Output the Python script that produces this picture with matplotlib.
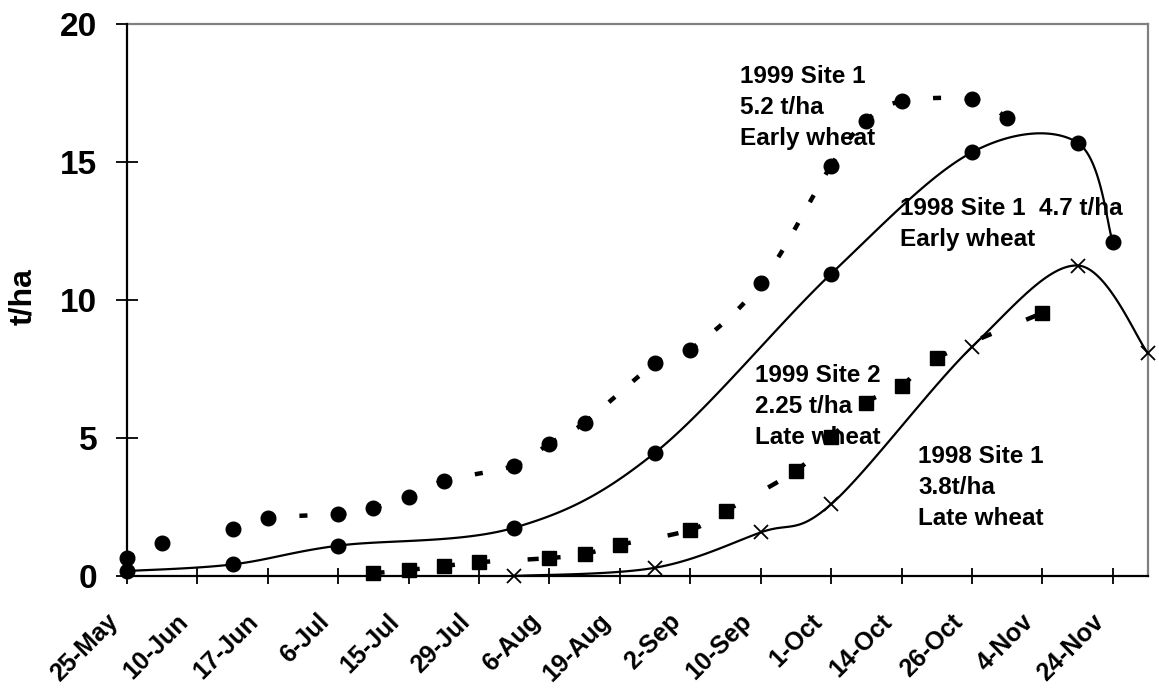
import numpy as np
import matplotlib
matplotlib.use("Agg")
import matplotlib.pyplot as plt
from matplotlib.transforms import ScaledTranslation

plt.rcParams['font.family'] = ['Liberation Sans', 'DejaVu Sans']
plt.rcParams['font.weight'] = 'bold'
plt.rcParams['lines.scale_dashes'] = False

# ---------------- data ----------------
date_labels = ['25-May', '10-Jun', '17-Jun', '6-Jul', '15-Jul', '29-Jul', '6-Aug',
               '19-Aug', '2-Sep', '10-Sep', '1-Oct', '14-Oct', '26-Oct', '4-Nov', '24-Nov']
n_categories = 30
y_ticks = [0, 5, 10, 15, 20]

# 1999 Site 1, early wheat (two connected pieces)
s99_1_a_x = [0, 1]
s99_1_a_y = [0.65, 1.2]
s99_1_b_x = [3, 4, 6, 7, 8, 9, 11, 12, 13, 15, 16, 18, 20, 21, 22, 24, 25]
s99_1_b_y = [1.7, 2.1, 2.25, 2.47, 2.85, 3.45, 4.0, 4.8, 5.56, 7.7, 8.2, 10.6,
             14.87, 16.5, 17.2, 17.27, 16.6]

# 1998 Site 1, early wheat
s98_early_x = [0, 3, 6, 11, 15, 20, 24, 27, 28]
s98_early_y = [0.18, 0.42, 1.1, 1.75, 4.47, 10.95, 15.35, 15.7, 12.1]

# 1999 Site 2, late wheat
s99_2_x = [7, 8, 9, 10, 12, 13, 14, 16, 17, 19, 20, 21, 22, 23, 26]
s99_2_y = [0.1, 0.22, 0.36, 0.5, 0.65, 0.8, 1.13, 1.67, 2.36, 3.82, 5.02, 6.28,
           6.9, 7.9, 9.53]

# 1998 Site 1, late wheat
s98_late_x = [11, 15, 18, 20, 24, 27, 29]
s98_late_y = [0.0, 0.3, 1.58, 2.6, 8.3, 11.25, 8.07]

annotations = [
    ("1999 Site 1\n5.2 t/ha\nEarly wheat", 740, 65),
    ("1998 Site 1  4.7 t/ha\nEarly wheat", 900, 197),
    ("1999 Site 2\n2.25 t/ha\nLate wheat", 755, 364),
    ("1998 Site 1\n3.8t/ha\nLate wheat", 918, 445),
]

# ---------------- helpers ----------------
def smooth_segments(xs, ys, n=40):
    """Excel-like smoothed line: Bezier segments with Catmull-Rom control points."""
    P = np.column_stack([xs, ys]).astype(float)
    segs = []
    t = np.linspace(0, 1, n)[:, None]
    for i in range(len(P) - 1):
        p0 = P[i - 1] if i > 0 else P[i]
        p1 = P[i]
        p2 = P[i + 1]
        p3 = P[i + 2] if i + 2 < len(P) else P[i + 1]
        c1 = p1 + (p2 - p0) / 6.0
        c2 = p2 - (p3 - p1) / 6.0
        B = ((1 - t) ** 3) * p1 + 3 * ((1 - t) ** 2) * t * c1 + 3 * (1 - t) * (t ** 2) * c2 + (t ** 3) * p2
        segs.append(B)
    return segs


def draw_line(ax, xs, ys, lw, ls):
    for seg in smooth_segments(xs, ys):
        ax.plot(seg[:, 0], seg[:, 1], color='black', lw=lw, linestyle=ls,
                dash_capstyle='butt', solid_capstyle='butt', zorder=3, clip_on=False)


W, H = 1159, 689
fig = plt.figure(figsize=(W / 100, H / 100), dpi=100)
L, R, T, Bm = 127, 1148, 24, 576
ax = fig.add_axes([L / W, 1 - Bm / H, (R - L) / W, (Bm - T) / H])

dashA = (0, (5.8, 17.0))
dashC = (0, (8.0, 27.0))

draw_line(ax, s99_1_a_x, s99_1_a_y, 3.2, dashA)
draw_line(ax, s99_1_b_x, s99_1_b_y, 3.2, dashA)
draw_line(ax, s98_early_x, s98_early_y, 1.6, '-')
draw_line(ax, s99_2_x, s99_2_y, 3.2, dashC)
draw_line(ax, s98_late_x, s98_late_y, 1.6, '-')

ax.plot(s99_1_a_x + s99_1_b_x, s99_1_a_y + s99_1_b_y, 'o', color='black', ms=10.5,
        zorder=4, clip_on=False)
ax.plot(s98_early_x, s98_early_y, 'o', color='black', ms=10.5, zorder=4, clip_on=False)
ax.plot(s99_2_x, s99_2_y, 's', color='black', ms=9.8, zorder=4, clip_on=False)
ax.plot(s98_late_x, s98_late_y, 'x', color='black', ms=10.5, mew=1.3, zorder=4, clip_on=False)

ax.set_xlim(0, n_categories - 1)
ax.set_ylim(0, 20)

ax.set_xticks(range(0, 2 * len(date_labels), 2))
ax.set_xticklabels(date_labels, rotation=45, ha='right', va='center',
                   rotation_mode='anchor', fontsize=18, fontweight='bold')
ax.set_yticks(y_ticks)
ax.set_yticklabels([str(v) for v in y_ticks], fontsize=24, fontweight='bold')

ax.tick_params(axis='y', direction='inout', length=16.5, width=1.3, pad=13, colors='black')
ax.tick_params(axis='x', direction='inout', length=12, width=1.3, pad=24, colors='black')

offset = ScaledTranslation(-13 / 100, 0, fig.dpi_scale_trans)
for lab in ax.get_xticklabels():
    lab.set_transform(lab.get_transform() + offset)

for side in ['left', 'bottom']:
    ax.spines[side].set_color('black')
    ax.spines[side].set_linewidth(1.6)
for side in ['top', 'right']:
    ax.spines[side].set_color('#808080')
    ax.spines[side].set_linewidth(1.6)
ax.spines['left'].set_zorder(5)
ax.spines['bottom'].set_zorder(5)

fig.text(23 / W, 1 - 297 / H, 't/ha', rotation=90, ha='center', va='center',
         fontsize=23, fontweight='bold')

for txt, px, py in annotations:
    fig.text(px / W, 1 - py / H, txt, ha='left', va='top', fontsize=17.5,
             fontweight='bold', linespacing=1.45, zorder=2)

fig.savefig('out.png', dpi=100)
